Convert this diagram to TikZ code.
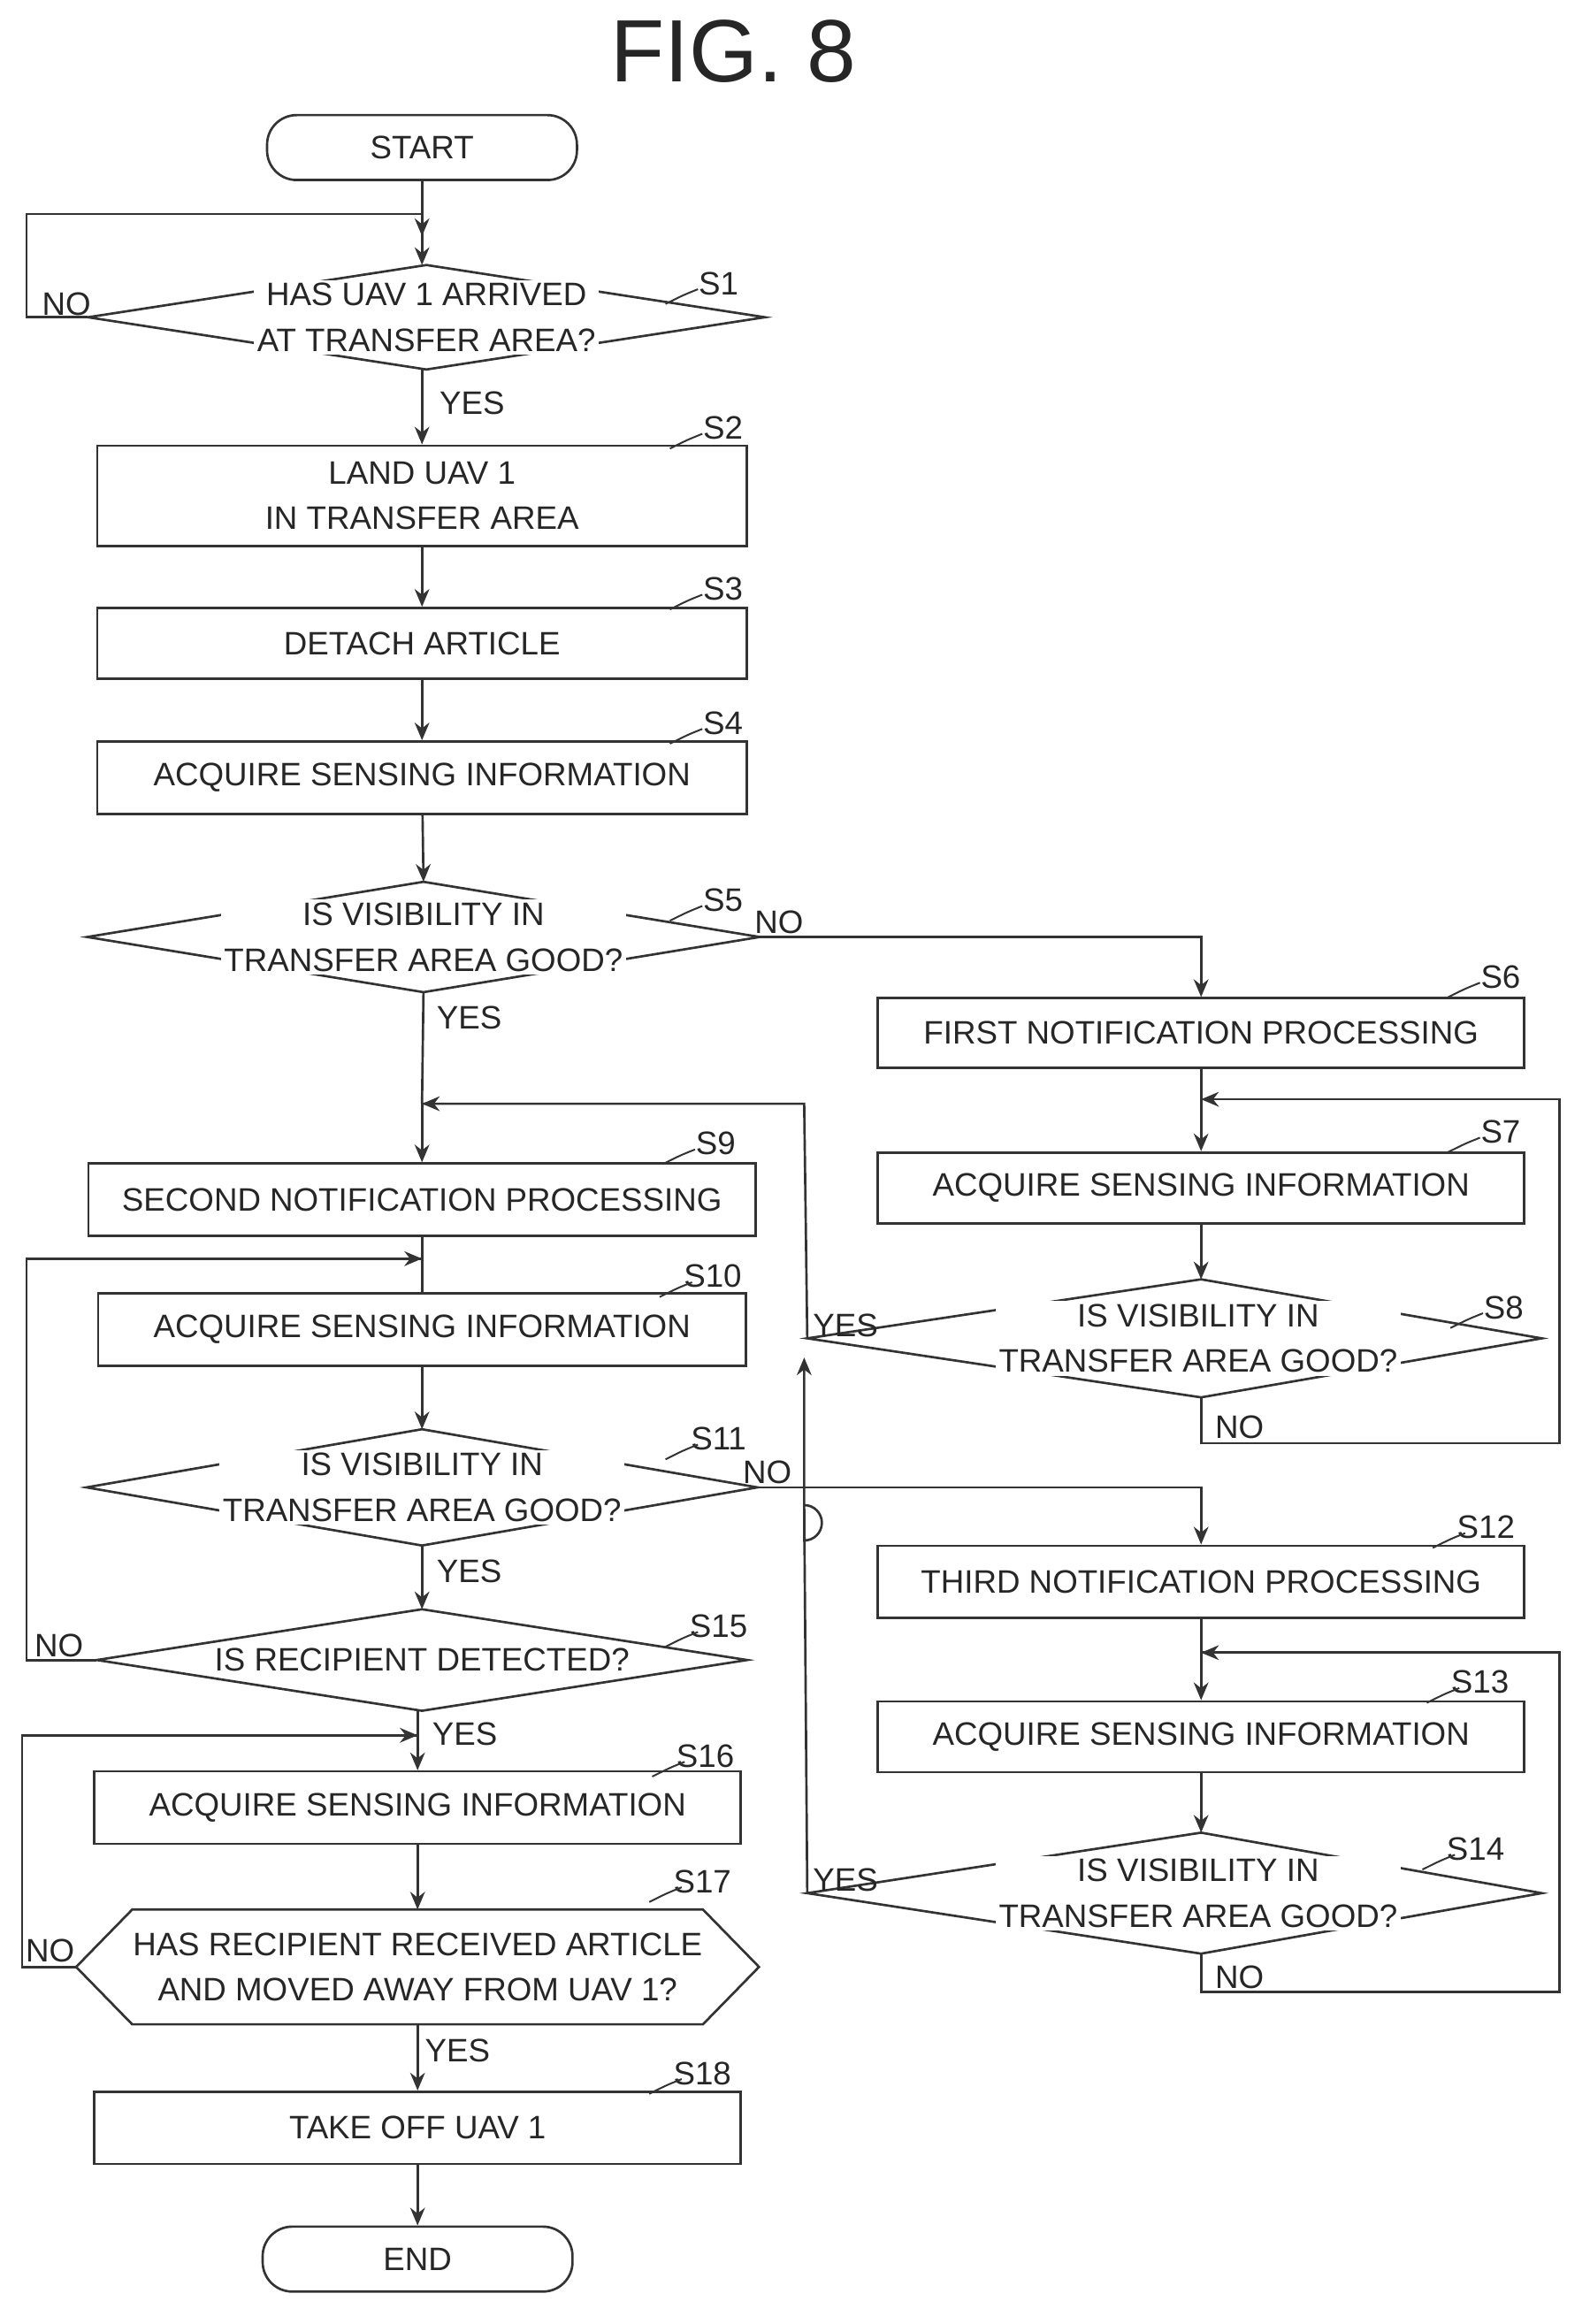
\documentclass[tikz,border=0pt]{standalone}
\usepackage{fontspec}
\setmainfont{Liberation Sans}
\usetikzlibrary{arrows.meta}
\begin{document}
\begin{tikzpicture}[x=0.5pt,y=-0.5pt,
  every node/.style={font=\fontsize{11}{15.5}\selectfont, text=black!85},
  ln/.style={draw=black!80,line width=0.8pt},
  arr/.style={ln,-{Stealth[length=6pt,width=5pt]}},
  box/.style={draw=black!80,line width=0.8pt,rectangle,inner sep=0pt,align=center},
  term/.style={draw=black!80,line width=0.8pt,rounded corners=10pt,inner sep=0pt,minimum width=105pt,minimum height=22pt},
  dia/.style={inner sep=0pt,align=center},
  dtxt/.style={fill=white,inner sep=1pt,align=center},
  lab/.style={font=\fontsize{11}{13}\selectfont}]
\useasboundingbox (0,0) rectangle (1077,1575);
\node[font=\fontsize{30}{34}\selectfont] (title) at (497,35) {FIG. 8};
% left column
\node[term] (start) at (286,100) {START};
\node[dia,minimum width=458*0.5pt,minimum height=70*0.5pt] (s1) at (289,215) {};
\node[box,minimum width=440*0.5pt,minimum height=68*0.5pt] (s2) at (286,336) {LAND UAV 1\\IN TRANSFER AREA};
\node[box,minimum width=440*0.5pt,minimum height=48*0.5pt] (s3) at (286,436) {DETACH ARTICLE};
\node[box,minimum width=440*0.5pt,minimum height=49*0.5pt] (s4) at (286,527) {ACQUIRE SENSING INFORMATION};
\node[dia,minimum width=455*0.5pt,minimum height=74*0.5pt] (s5) at (287,635) {};
\node[box,minimum width=452*0.5pt,minimum height=49*0.5pt] (s9) at (286,813) {SECOND NOTIFICATION PROCESSING};
\node[box,minimum width=439*0.5pt,minimum height=49*0.5pt] (s10) at (286,901) {ACQUIRE SENSING INFORMATION};
\node[dia,minimum width=454*0.5pt,minimum height=78*0.5pt] (s11) at (286,1008) {};
\node[dia,minimum width=440*0.5pt,minimum height=68*0.5pt] (s15) at (286,1125) {};
\node[box,minimum width=438*0.5pt,minimum height=49*0.5pt] (s16) at (283,1225) {ACQUIRE SENSING INFORMATION};
\node[dia,minimum width=462*0.5pt,minimum height=77*0.5pt] (s17) at (283,1333) {HAS RECIPIENT RECEIVED ARTICLE\\AND MOVED AWAY FROM UAV 1?};
\node[box,minimum width=438*0.5pt,minimum height=49*0.5pt] (s18) at (283,1442) {TAKE OFF UAV 1};
\node[term] (end) at (283,1531) {END};
% right column
\node[box,minimum width=438*0.5pt,minimum height=47*0.5pt] (s6) at (814,700) {FIRST NOTIFICATION PROCESSING};
\node[box,minimum width=438*0.5pt,minimum height=48*0.5pt] (s7) at (814,805) {ACQUIRE SENSING INFORMATION};
\node[dia,minimum width=497*0.5pt,minimum height=80*0.5pt] (s8) at (796,907) {};
\coordinate (s8n) at (814,867); \coordinate (s8s) at (814,947);
\node[box,minimum width=438*0.5pt,minimum height=49*0.5pt] (s12) at (814,1072) {THIRD NOTIFICATION PROCESSING};
\node[box,minimum width=438*0.5pt,minimum height=48*0.5pt] (s13) at (814,1177) {ACQUIRE SENSING INFORMATION};
\node[dia,minimum width=497*0.5pt,minimum height=82*0.5pt] (s14) at (796,1283) {};
\coordinate (s14n) at (814,1242); \coordinate (s14s) at (814,1324);
% diamond outlines
\foreach \n in {s1,s5,s11,s15}{
  \draw[ln] (\n.west) -- (\n.north) -- (\n.east) -- (\n.south) -- cycle;}
\draw[ln] (s8.west) -- (s8n) -- (s8.east) -- (s8s) -- cycle;
\draw[ln] (s14.west) -- (s14n) -- (s14.east) -- (s14s) -- cycle;
\draw[ln] (s17.west) -- ([xshift=19pt]s17.north west) -- ([xshift=-19pt]s17.north east) -- (s17.east) -- ([xshift=-19pt]s17.south east) -- ([xshift=19pt]s17.south west) -- cycle;
% diamond texts
\node[dtxt] (t1) at (289,215) {HAS UAV 1 ARRIVED\\AT TRANSFER AREA?};
\node[dtxt] (t5) at (287,635) {IS VISIBILITY IN\\TRANSFER AREA GOOD?};
\node[dtxt] (t11) at (286,1008) {IS VISIBILITY IN\\TRANSFER AREA GOOD?};
\node[dtxt] (t15) at (286,1125) {IS RECIPIENT DETECTED?};
\node[dtxt] (t8) at (812,907) {IS VISIBILITY IN\\TRANSFER AREA GOOD?};
\node[dtxt] (t14) at (812,1283) {IS VISIBILITY IN\\TRANSFER AREA GOOD?};
% step labels
\foreach \n/\x/\y in {S1/487/192,S2/490/290,S3/490/399,S4/490/490,S5/490/610,S6/1017/662,S7/1017/767,S8/1019/886,S9/485/775,S10/483/865,S11/487/975,S12/1007/1035,S13/1003/1140,S14/1000/1253,S15/487/1102,S16/478/1190,S17/476/1275,S18/476/1405}{
  \node[lab] (l\n) at (\x,\y) {\n};
  \draw[ln,line width=0.6pt] (\x-14,\y+4) .. controls (\x-24,\y+8) .. (\x-36,\y+14);}
% connectors
\coordinate (j1) at (286,145);
\coordinate (j9) at (286,748);
\coordinate (j10) at (286,853);
\coordinate (j16) at (283,1176);
\coordinate (j7) at (814,745);
\coordinate (j13) at (814,1120);
\draw[arr] (start) -- (s1.north -| start);
\draw[ln] (s1.west) -- (18,215) -- (18,145) -- (j1);
\draw[arr] (j1) -- (286,160);
\node[lab] (n1) at (45,206) {NO};
\draw[arr] (s2.north |- s1.south) -- (s2.north);
\node[lab] (y1) at (320,273) {YES};
\draw[arr] (s2) -- (s3);
\draw[arr] (s3) -- (s4);
\draw[arr] (s4) -- (s5.north);
\draw[arr] (s5.east) -| (s6.north);
\node[lab] (n5) at (528,625) {NO};
\draw[ln] (s5.south) -- (j9);
\draw[arr] (j9) -- (s9.north);
\node[lab] (y5) at (318,690) {YES};
\draw[arr] (s6) -- (s7);
\draw[arr] (s7) -- (s8n);
\draw[ln] (s8s) -- (814,978) -- (1057,978) -- (1057,745) -- (j7);
\draw[arr] (1057,745) -- (j7);
\node[lab] (n8) at (840,967) {NO};
\draw[ln] (s8.west) -- (545,748) -- (j9);
\draw[arr] (545,748) -- (j9);
\node[lab] (y8) at (573,898) {YES};
\draw[arr] (s14.west) -- (545,1020) arc[start angle=-90,end angle=90,radius=12] -- (545,920);
\node[lab] (y14) at (573,1274) {YES};
\draw[ln] (s9) -- (s10);
\draw[arr] (s10) -- (s11.north);
\draw[arr] (s11.east) -| (s12.north);
\node[lab] (n11) at (520,998) {NO};
\draw[arr] (s11.south) -- (s15.north);
\node[lab] (y11) at (318,1065) {YES};
\draw[ln] (s15.west) -- (18,1125) -- (18,853) -- (j10);
\draw[arr] (18,853) -- (j10);
\node[lab] (n15) at (40,1115) {NO};
\draw[arr] (s15.south -| s16.north) -- (s16.north);
\node[lab] (y15) at (315,1175) {YES};
\draw[ln] (s17.west) -- (15,1333) -- (15,1176) -- (j16);
\draw[arr] (15,1176) -- (j16);
\node[lab] (n17) at (34,1322) {NO};
\draw[arr] (s16) -- (s17.north);
\draw[arr] (s17.south) -- (s18.north);
\node[lab] (y17) at (310,1390) {YES};
\draw[arr] (s18) -- (end);
\draw[arr] (s12) -- (s13);
\draw[arr] (s13) -- (s14n);
\draw[ln] (s14s) -- (814,1350) -- (1057,1350) -- (1057,1120) -- (j13);
\draw[arr] (1057,1120) -- (j13);
\node[lab] (n14) at (840,1340) {NO};
\end{tikzpicture}
\end{document}
